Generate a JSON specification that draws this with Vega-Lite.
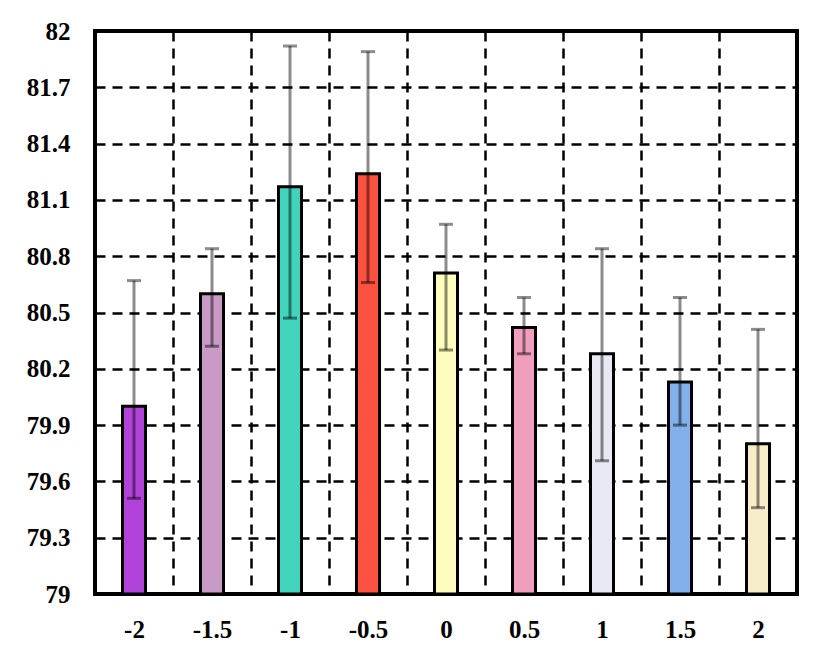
{
  "$schema": "https://vega.github.io/schema/vega-lite/v6.json",
  "width": 702,
  "height": 563,
  "autosize": "none",
  "padding": {"left": 95, "top": 31, "right": 32, "bottom": 69},
  "background": "white",
  "config": {
    "view": {"stroke": "black", "strokeWidth": 4},
    "axis": {
      "labelFont": "Times New Roman, Liberation Serif, serif",
      "labelFontWeight": "bold",
      "labelFontSize": 25,
      "labelColor": "black",
      "domain": false,
      "ticks": false,
      "gridColor": "black",
      "gridWidth": 2.5,
      "gridOpacity": 1,
      "gridDash": [10, 7],
      "title": null
    }
  },
  "data": {
    "values": [
      {"k": "-2", "v": 80.0, "lo": 79.51, "hi": 80.67, "c": "#b243da"},
      {"k": "-1.5", "v": 80.6, "lo": 80.32, "hi": 80.84, "c": "#c99ac6"},
      {"k": "-1", "v": 81.17, "lo": 80.47, "hi": 81.92, "c": "#41d3bc"},
      {"k": "-0.5", "v": 81.24, "lo": 80.66, "hi": 81.89, "c": "#fc5040"},
      {"k": "0", "v": 80.71, "lo": 80.3, "hi": 80.97, "c": "#fdfdbd"},
      {"k": "0.5", "v": 80.42, "lo": 80.28, "hi": 80.58, "c": "#ef9ebe"},
      {"k": "1", "v": 80.28, "lo": 79.71, "hi": 80.84, "c": "#e9e9f4"},
      {"k": "1.5", "v": 80.13, "lo": 79.9, "hi": 80.58, "c": "#82b0ea"},
      {"k": "2", "v": 79.8, "lo": 79.46, "hi": 80.41, "c": "#f8ecc9"}
    ]
  },
  "encoding": {
    "x": {
      "field": "k",
      "type": "nominal",
      "sort": null,
      "scale": {"paddingInner": 0, "paddingOuter": 0},
      "axis": {"labelAngle": 0, "labelPadding": 23, "tickBand": "extent", "grid": true}
    }
  },
  "layer": [
    {
      "mark": {"type": "bar", "width": 23, "stroke": "black", "strokeWidth": 3, "clip": true},
      "encoding": {
        "y": {
          "field": "v",
          "type": "quantitative",
          "scale": {"domain": [79, 82], "zero": false, "nice": false},
          "axis": {
            "values": [79, 79.3, 79.6, 79.9, 80.2, 80.5, 80.8, 81.1, 81.4, 81.7, 82],
            "format": ".1~f",
            "labelPadding": 25,
            "grid": true
          }
        },
        "y2": {"datum": 79},
        "fill": {"field": "c", "type": "nominal", "scale": null}
      }
    },
    {
      "mark": {"type": "rule", "color": "black", "opacity": 0.45, "strokeWidth": 3},
      "encoding": {
        "y": {"field": "lo", "type": "quantitative"},
        "y2": {"field": "hi"}
      }
    },
    {
      "mark": {"type": "tick", "color": "black", "opacity": 0.45, "thickness": 3, "size": 14},
      "encoding": {
        "y": {"field": "lo", "type": "quantitative"}
      }
    },
    {
      "mark": {"type": "tick", "color": "black", "opacity": 0.45, "thickness": 3, "size": 14},
      "encoding": {
        "y": {"field": "hi", "type": "quantitative"}
      }
    }
  ]
}
